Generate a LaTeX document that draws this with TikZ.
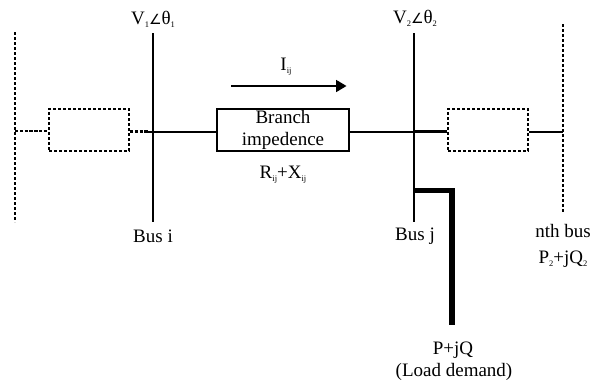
\documentclass[tikz,border=0pt]{standalone}
\usepackage{fontspec}
\setmainfont{Liberation Serif}
\newfontfamily\symfont{DejaVu Sans}
\usetikzlibrary{arrows.meta}
\newcommand{\sbs}[1]{\raisebox{-3pt}{\fontsize{8.5}{9}\selectfont #1}}
\newcommand{\angsym}{{\symfont\fontsize{14}{15}\selectfont ∠}}
\tikzset{
  x=1pt,y=-1pt,
  lbl/.style={inner sep=0pt,font=\fontsize{19}{21}\selectfont,align=center},
  solidbus/.style={line width=2.2pt},
  dashbus/.style={line width=2.4pt,dash pattern=on 3.4pt off 1.6pt},
  wire/.style={line width=2pt},
  dashwire/.style={line width=2.8pt,dash pattern=on 3.4pt off 1.4pt},
  dashbox/.style={draw,line width=2pt,dash pattern=on 3.4pt off 1.6pt,minimum width=80pt,minimum height=42pt,inner sep=0pt},
  branchbox/.style={draw,line width=1.8pt,minimum width=132pt,minimum height=42pt,inner sep=0pt,align=center,font=\fontsize{19}{22}\selectfont},
  loadline/.style={line width=5.5pt,line join=miter}
}
\begin{document}
\begin{tikzpicture}
\useasboundingbox (0,0) rectangle (597,383);
% bus ends
\coordinate (lt) at (15,32);
\coordinate (lb) at (15,222);
\coordinate (lm) at (15,131);
\coordinate (it) at (153,33);
\coordinate (ib) at (153,222);
\coordinate (im) at (148,131.5);
\coordinate (jt) at (414,33);
\coordinate (jb) at (414,222);
\coordinate (jm) at (414,131.5);
\coordinate (nt) at (563,24);
\coordinate (nb) at (563,213);
\coordinate (nm) at (563,132);
\coordinate (ls) at (414,190.5);
\coordinate (lc) at (452,190.5);
\coordinate (le) at (452,325);
\coordinate (as) at (231,86);
\coordinate (ae) at (346.5,86);
% boxes
\node[dashbox] (dl) at (89,130) {};
\node[dashbox] (dr) at (488,130) {};
\node[branchbox] (br) at (283,130) {\raisebox{-1pt}{Branch}\\\raisebox{-1pt}{impedence}};
% buses
\draw[dashbus] (lt) -- (lb);
\draw[solidbus] (it) -- (ib);
\draw[solidbus] (jt) -- (jb);
\draw[dashbus] (nt) -- (nb);
% wires
\draw[dashwire] (lm) -- (dl.west |- lm);
\draw[dashwire] (dl.east |- im) -- (im);
\draw[wire] (im) -- (br.west |- im);
\draw[wire] (br.east |- jm) -- (jm);
\draw[solidbus] (jm) -- (dr.west |- jm);
\draw[solidbus] (dr.east |- nm) -- (nm);
% load
\draw[loadline] (ls) -- (lc) -- (le);
% current arrow
\draw[line width=1.8pt,-{Triangle[length=10.5pt,width=12pt]}] (as) -- (ae);
% labels
\node[lbl] (v1) at (153,19) {V\sbs{1}\angsym θ\sbs{1}};
\node[lbl] (v2) at (415,18) {V\sbs{2}\angsym θ\sbs{2}};
\node[lbl] (iij) at (286,67) {I\sbs{ij}};
\node[lbl] (rx) at (283,175) {R\sbs{ij}+X\sbs{ij}};
\node[lbl] (bi) at (153,236) {Bus i};
\node[lbl] (bj) at (415,236) {Bus j};
\node[lbl] (nbus) at (563,231) {nth bus};
\node[lbl] (pq2) at (563,259) {P\sbs{2}+jQ\sbs{2}};
\node[lbl] (pq) at (453,350) {P+jQ};
\node[lbl] (ld) at (454,372) {(Load demand)};
\end{tikzpicture}
\end{document}
